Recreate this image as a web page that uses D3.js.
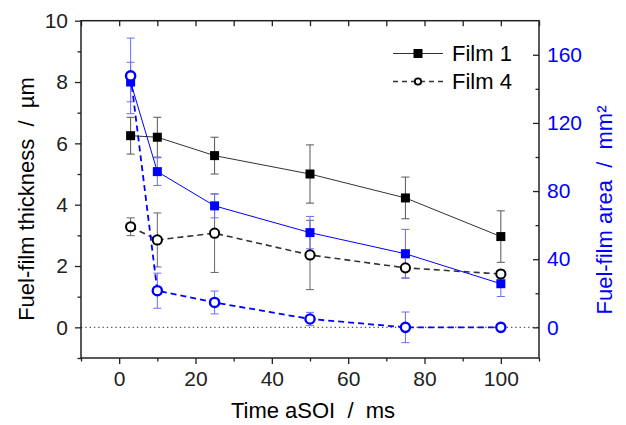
<!DOCTYPE html>
<html>
<head>
<meta charset="utf-8">
<script src="https://cdn.jsdelivr.net/npm/d3@7"></script>
<style>
  body { margin: 0; background: #fff; }
  svg text { font-family: "Liberation Sans", Arial, sans-serif; }
</style>
</head>
<body>
<div class="content"></div>
<script>
// time after start of injection, ms
var times = [3, 10, 25, 50, 75, 100];

// fuel-film thickness (left axis, um)
var film1Thick = [6.25, 6.2, 5.6, 5.0, 4.22, 2.96];
var film1ThickErr = [0.6, 0.65, 0.6, 0.95, 0.68, 0.84];
var film4Thick = [3.28, 2.85, 3.07, 2.36, 1.94, 1.74];
var film4ThickErr = [0.29, 0.88, 1.28, 1.13, 0.33, 0.12];

// fuel-film area (right axis, mm2)
var film1Area = [144, 91.4, 71.3, 55.6, 43.2, 25.6];
var film1AreaErr = [11.6, 8.1, 7, 9.5, 14.3, 7.5];
var film4Area = [147.6, 21.5, 14.6, 4.9, 0, 0];
var film4AreaErr = [22.2, 10.3, 6.7, 3.9, 9, 0];

var xMajor = [0, 20, 40, 60, 80, 100];
var xMinor = [-10, 10, 30, 50, 70, 90, 110];
var yLeftMajor = [0, 2, 4, 6, 8, 10];
var yLeftMinor = [-1, 1, 3, 5, 7, 9];
var yRightMajor = [0, 40, 80, 120, 160];
var yRightMinor = [20, 60, 100, 140];

var legendLabels = ["Film 1", "Film 4"];

var size = {width: 626, height: 425};
var padding = {left: 81, right: 87, top: 20.7, bottom: 67};
var blue = "#0000ff";

var chart = d3.select('.content')
    .append('svg')
    .attr('width', size.width)
    .attr('height', size.height);

var xScale = d3.scaleLinear()
    .domain([-10, 110])
    .range([padding.left, size.width - padding.right]);
var yLeft = d3.scaleLinear()
    .domain([-1, 10])
    .range([size.height - padding.bottom, padding.top]);
var yRight = d3.scaleLinear()
    .domain([-18, 180])
    .range([size.height - padding.bottom, padding.top]);

var x0 = xScale.range()[0], x1 = xScale.range()[1];
var yTop = yLeft.range()[1], yBot = yLeft.range()[0];

// zero reference line
chart.append('line')
    .attr('x1', x0).attr('x2', x1)
    .attr('y1', yLeft(0)).attr('y2', yLeft(0))
    .attr('stroke', '#555').attr('stroke-width', 1.3)
    .attr('stroke-dasharray', '1.3,3');

function styleAxis(g, color) {
    g.select('.domain').remove();
    g.selectAll('line').attr('stroke', color).attr('stroke-width', 1.3);
    g.selectAll('text').attr('fill', color).style('font-size', '21px');
}

// bottom axis
chart.append('g')
    .attr('transform', 'translate(0,' + yBot + ')')
    .call(d3.axisBottom(xScale).tickValues(xMajor).tickSizeInner(6).tickSizeOuter(0).tickPadding(7))
    .call(styleAxis, '#222');
chart.append('g')
    .attr('transform', 'translate(0,' + yBot + ')')
    .call(d3.axisBottom(xScale).tickValues(xMinor).tickSizeInner(3.5).tickSizeOuter(0).tickFormat(''))
    .call(styleAxis, '#222');
// top axis (inner ticks)
chart.append('g')
    .attr('transform', 'translate(0,' + yTop + ')')
    .call(d3.axisTop(xScale).tickValues(xMajor).tickSizeInner(-5.5).tickSizeOuter(0).tickFormat(''))
    .call(styleAxis, '#222');
chart.append('g')
    .attr('transform', 'translate(0,' + yTop + ')')
    .call(d3.axisTop(xScale).tickValues(xMinor).tickSizeInner(-5.5).tickSizeOuter(0).tickFormat(''))
    .call(styleAxis, '#222');

// left axis
chart.append('g')
    .attr('transform', 'translate(' + x0 + ',0)')
    .call(d3.axisLeft(yLeft).tickValues(yLeftMajor).tickSizeInner(6).tickSizeOuter(0).tickPadding(7))
    .call(styleAxis, '#222');
chart.append('g')
    .attr('transform', 'translate(' + x0 + ',0)')
    .call(d3.axisLeft(yLeft).tickValues(yLeftMinor).tickSizeInner(3.5).tickSizeOuter(0).tickFormat(''))
    .call(styleAxis, '#222');

// right axis (inner ticks, blue labels)
var rightAxis = chart.append('g')
    .attr('transform', 'translate(' + x1 + ',0)')
    .call(d3.axisRight(yRight).tickValues(yRightMajor).tickSizeInner(-6).tickSizeOuter(0).tickPadding(8))
    .call(styleAxis, '#222');
rightAxis.selectAll('text').attr('fill', blue);
chart.append('g')
    .attr('transform', 'translate(' + x1 + ',0)')
    .call(d3.axisRight(yRight).tickValues(yRightMinor).tickSizeInner(-3.5).tickSizeOuter(0).tickFormat(''))
    .call(styleAxis, '#222');

// frame
chart.append('rect')
    .attr('x', x0).attr('y', yTop)
    .attr('width', x1 - x0).attr('height', yBot - yTop)
    .attr('fill', 'none').attr('stroke', '#222').attr('stroke-width', 1.5);

// axis titles
chart.append('text')
    .attr('transform', 'translate(34,199) rotate(-90)')
    .attr('text-anchor', 'middle')
    .style('font-size', '22px').style('white-space', 'pre')
    .text('Fuel-film thickness  /  µm');
chart.append('text')
    .attr('transform', 'translate(612,210) rotate(-90)')
    .attr('text-anchor', 'middle')
    .attr('fill', blue)
    .style('font-size', '22px').style('white-space', 'pre')
    .text('Fuel-film area  /  mm²');
chart.append('text')
    .attr('x', 313).attr('y', 418)
    .attr('text-anchor', 'middle')
    .style('font-size', '22px').style('white-space', 'pre')
    .text('Time aSOI  /  ms');

var plot = chart.append('g');

function series(vals, errs) {
    return times.map(function(t, i) { return {x: t, y: vals[i], e: errs[i]}; });
}
var s1t = series(film1Thick, film1ThickErr);
var s4t = series(film4Thick, film4ThickErr);
var s1a = series(film1Area, film1AreaErr);
var s4a = series(film4Area, film4AreaErr);

function errorBars(data, yScale, color) {
    var g = plot.append('g').attr('stroke', color).attr('stroke-width', 1);
    data.filter(function(d) { return d.e > 0; }).forEach(function(d) {
        var cx = xScale(d.x);
        g.append('line').attr('x1', cx).attr('x2', cx)
            .attr('y1', yScale(d.y - d.e)).attr('y2', yScale(d.y + d.e));
        [d.y - d.e, d.y + d.e].forEach(function(v) {
            g.append('line').attr('x1', cx - 4).attr('x2', cx + 4)
                .attr('y1', yScale(v)).attr('y2', yScale(v));
        });
    });
}

function line(data, yScale, color, width, dash) {
    var gen = d3.line().x(function(d) { return xScale(d.x); }).y(function(d) { return yScale(d.y); });
    plot.append('path').datum(data)
        .attr('d', gen)
        .attr('fill', 'none')
        .attr('stroke', color)
        .attr('stroke-width', width)
        .attr('stroke-dasharray', dash);
}

function squares(data, yScale, color) {
    plot.append('g').selectAll('rect').data(data).enter().append('rect')
        .attr('x', function(d) { return xScale(d.x) - 4.5; })
        .attr('y', function(d) { return yScale(d.y) - 4.5; })
        .attr('width', 9).attr('height', 9)
        .attr('fill', color);
}

function circles(data, yScale, color, sw) {
    plot.append('g').selectAll('circle').data(data).enter().append('circle')
        .attr('cx', function(d) { return xScale(d.x); })
        .attr('cy', function(d) { return yScale(d.y); })
        .attr('r', 4.6)
        .attr('fill', '#fff')
        .attr('stroke', color)
        .attr('stroke-width', sw);
}

errorBars(s1t, yLeft, '#555');
errorBars(s4t, yLeft, '#666');
errorBars(s1a, yRight, '#6b6bff');
errorBars(s4a, yRight, '#6b6bff');

line(s1t, yLeft, '#333', 1, null);
line(s4t, yLeft, '#333', 1.6, '6,4');
line(s1a, yRight, blue, 1, null);
line(s4a, yRight, blue, 1.8, '6,4');

squares(s1t, yLeft, '#000');
circles(s4t, yLeft, '#000', 2);
squares(s1a, yRight, blue);
circles(s4a, yRight, blue, 2.4);

// legend
var legend = chart.append('g');
var legendY = [53.5, 81.5];
legend.append('line')
    .attr('x1', 393).attr('x2', 443).attr('y1', legendY[0]).attr('y2', legendY[0])
    .attr('stroke', '#333').attr('stroke-width', 1);
legend.append('rect')
    .attr('x', 418 - 4.5).attr('y', legendY[0] - 4.5).attr('width', 9).attr('height', 9)
    .attr('fill', '#000');
legend.append('line')
    .attr('x1', 393).attr('x2', 443).attr('y1', legendY[1]).attr('y2', legendY[1])
    .attr('stroke', '#333').attr('stroke-width', 1.5)
    .attr('stroke-dasharray', '5,4');
legend.append('circle')
    .attr('cx', 418).attr('cy', legendY[1]).attr('r', 3.2)
    .attr('fill', '#fff').attr('stroke', '#000').attr('stroke-width', 1.8);
legend.selectAll('text').data(legendLabels).enter().append('text')
    .attr('x', 452)
    .attr('y', function(d, i) { return legendY[i]; })
    .attr('dy', '0.36em')
    .style('font-size', '22px')
    .text(function(d) { return d; });
</script>
</body>
</html>
